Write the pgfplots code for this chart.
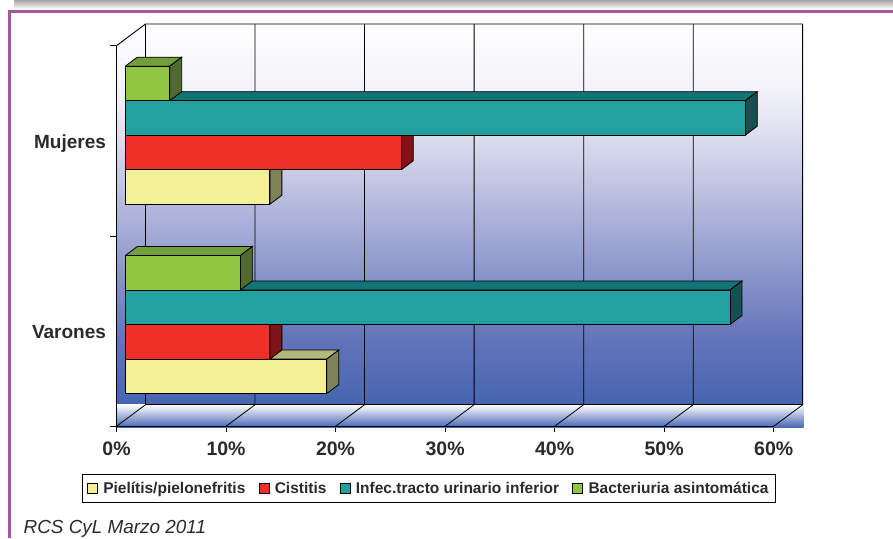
\documentclass[border=0pt]{standalone}
\usepackage{pgfplots}
\pgfplotsset{compat=1.18}
\usepackage{fontspec}
\setmainfont{Liberation Sans}
\definecolor{txt}{HTML}{2B2A29}
\definecolor{wallblue}{HTML}{4665B0}
\definecolor{frame}{HTML}{A855A0}
\definecolor{yf}{HTML}{F3F097}\definecolor{yt}{HTML}{B3B97A}\definecolor{ys}{HTML}{7E8357}
\definecolor{rf}{HTML}{EE3029}\definecolor{rt}{HTML}{A02020}\definecolor{rs}{HTML}{7F1315}
\definecolor{tf}{HTML}{23A0A0}\definecolor{tt}{HTML}{117575}\definecolor{ts}{HTML}{175050}
\definecolor{gf}{HTML}{8FC743}\definecolor{gt}{HTML}{719F3C}\definecolor{gs}{HTML}{516A2E}
\definecolor{w1}{HTML}{6274BA}\definecolor{w2}{HTML}{8C97CB}\definecolor{w3}{HTML}{AEB4DA}
\definecolor{w4}{HTML}{DDDFEF}\definecolor{w5}{HTML}{F2F2F9}
\pgfdeclareverticalshading{wall}{100bp}{color(0bp)=(wallblue); color(25bp)=(wallblue);
  color(33.5bp)=(w1); color(42.7bp)=(w2); color(50bp)=(w3); color(60.4bp)=(w4);
  color(66.3bp)=(w5); color(75bp)=(white); color(100bp)=(white)}
% top and side faces of one 3D bar: value, category y, bar shift, top colour, side colour
\newcommand\barfaces[5]{%
  \pgfmathsetmacro\ya{#2+(#3-17.25)/190.3}%
  \pgfmathsetmacro\yb{#2+(#3+17.25)/190.3}%
  \pgfmathsetmacro\yc{\ya+0.0473}%
  \pgfmathsetmacro\yd{\yb+0.0473}%
  \pgfmathsetmacro\xr{#1+1.0956}%
  \addplot[forget plot,fill=#4,draw=black,line width=0.8pt,xshift=8.8pt,yshift=6.6pt]
    coordinates {(0,\yb) (#1,\yb) (\xr,\yd) (1.0956,\yd) (0,\yb)};
  \addplot[forget plot,fill=#5,draw=black,line width=0.8pt,xshift=8.8pt,yshift=6.6pt]
    coordinates {(#1,\ya) (#1,\yb) (\xr,\yd) (\xr,\yc) (#1,\ya)};
}
\begin{document}
\begin{tikzpicture}[x=1pt,y=1pt]
\path[use as bounding box] (0,0) rectangle (893,538);
% page furniture
\shade[top color=black!35,bottom color=white] (14,538) rectangle (893,529);
\draw[frame,line width=2.6pt] (9.3,0) -- (9.3,526.7) -- (893,526.7);
\node[anchor=base west,inner sep=0pt,font=\itshape\fontsize{18.9}{20}\selectfont,text=txt] at (23.5,4.6) {RCS CyL Marzo 2011};
\begin{axis}[
  at={(116.5pt,111.7pt)},anchor=south west,
  scale only axis,width=657.2pt,height=380.6pt,
  xmin=0,xmax=60,ymin=0,ymax=2,clip=false,
  axis line style={draw=none},
  xtick={0,10,20,30,40,50,60},
  xticklabels={0\%,10\%,20\%,30\%,40\%,50\%,60\%},
  ytick={0.5,1.5},yticklabels={Varones,Mujeres},
  minor ytick={0,1,2},
  xtick pos=left,ytick pos=left,tick align=outside,
  major tick length=6pt,minor tick length=6pt,
  major y tick style={draw=none},
  tick style={black,line width=0.8pt},
  xticklabel style={font=\bfseries\fontsize{19.5}{20}\selectfont,text=txt,yshift=-6pt},
  yticklabel style={font=\bfseries\fontsize{19}{20}\selectfont,text=txt,xshift=-1pt,yshift=-1pt,text depth=0pt},
  legend columns=4,
  legend style={at={(-0.053,-0.126)},anchor=north west,draw=black,line width=0.8pt,
    font=\bfseries\fontsize{15.5}{18}\selectfont,text=txt,
    inner xsep=5pt,inner ysep=5.5pt,column sep=3.5pt,
    /tikz/every even column/.append style={column sep=11.2pt}},
]
\addlegendimage{legend image code/.code={\draw[fill=yf,draw=black,line width=0.7pt] (0pt,-5pt) rectangle (10pt,5pt);}}
\addlegendentry{Pielítis/pielonefritis}
\addlegendimage{legend image code/.code={\draw[fill=rf,draw=black,line width=0.7pt] (0pt,-5pt) rectangle (10pt,5pt);}}
\addlegendentry{Cistitis}
\addlegendimage{legend image code/.code={\draw[fill=tf,draw=black,line width=0.7pt] (0pt,-5pt) rectangle (10pt,5pt);}}
\addlegendentry{Infec.tracto urinario inferior}
\addlegendimage{legend image code/.code={\draw[fill=gf,draw=black,line width=0.7pt] (0pt,-5pt) rectangle (10pt,5pt);}}
\addlegendentry{Bacteriuria asintomática}
% walls and floor
\shade[shading=wall]
  (axis cs:0,0.1135) rectangle (axis cs:62.65,2.1140);
\fill[top color=white,bottom color=wallblue]
  (axis cs:0,-0.006) rectangle (axis cs:62.7,0.1135);
\fill[white] (axis cs:0,2) -- (axis cs:2.65,2.114) -- (axis cs:0,2.114) -- cycle;
% gridlines, back wall, floor lines
\foreach \v in {0,10,20,30,40,50,60}{
  \edef\tmp{\noexpand\draw[black,line width=0.8pt] (axis cs:\v,0) -- (axis cs:\v+2.65,0.1135) -- (axis cs:\v+2.65,2.114);}\tmp
}
\draw[black,line width=0.9pt] (axis cs:0,2) -- (axis cs:2.65,2.114) -- (axis cs:62.65,2.114);
\draw[black,line width=1.3pt] (axis cs:62.65,2.114) -- (axis cs:62.65,0.1135);
\draw[black,line width=0.9pt] (axis cs:2.65,0.1135) -- (axis cs:62.65,0.1135);
\draw[black,line width=1pt] (axis cs:0,2) -- (axis cs:0,0) -- (axis cs:60,0);
% Pielitis
\barfaces{18.4}{0.5}{-51.75}{yt}{ys}
\barfaces{13.2}{1.495}{-51.75}{yt}{ys}
\addplot[forget plot,xbar,bar width=34.5pt,bar shift=-51.75pt,fill=yf,draw=black,line width=0.8pt,xshift=8.8pt,yshift=6.6pt]
  coordinates {(18.4,0.5) (13.2,1.495)};
% Cistitis
\barfaces{13.2}{0.5}{-17.25}{rt}{rs}
\barfaces{25.2}{1.495}{-17.25}{rt}{rs}
\addplot[forget plot,xbar,bar width=34.5pt,bar shift=-17.25pt,fill=rf,draw=black,line width=0.8pt,xshift=8.8pt,yshift=6.6pt]
  coordinates {(13.2,0.5) (25.2,1.495)};
% Infec. tracto urinario inferior
\barfaces{55.2}{0.5}{17.25}{tt}{ts}
\barfaces{56.6}{1.495}{17.25}{tt}{ts}
\addplot[forget plot,xbar,bar width=34.5pt,bar shift=17.25pt,fill=tf,draw=black,line width=0.8pt,xshift=8.8pt,yshift=6.6pt]
  coordinates {(55.2,0.5) (56.6,1.495)};
% Bacteriuria asintomatica
\barfaces{10.5}{0.5}{51.75}{gt}{gs}
\barfaces{4.05}{1.495}{51.75}{gt}{gs}
\addplot[forget plot,xbar,bar width=34.5pt,bar shift=51.75pt,fill=gf,draw=black,line width=0.8pt,xshift=8.8pt,yshift=6.6pt]
  coordinates {(10.5,0.5) (4.05,1.495)};
\end{axis}
\end{tikzpicture}
\end{document}
